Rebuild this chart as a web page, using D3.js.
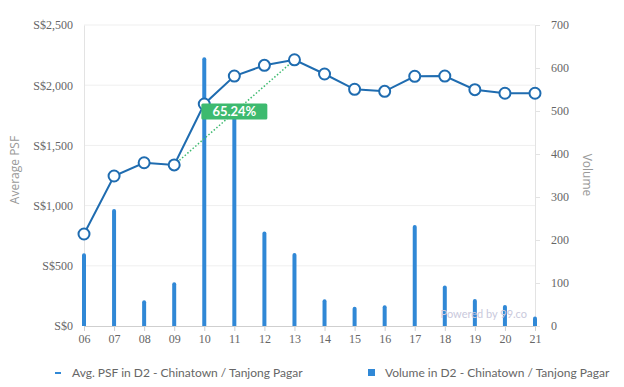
<!DOCTYPE html>
<html>
<head>
<meta charset="utf-8">
<script src="https://cdn.jsdelivr.net/npm/d3@7"></script>
<style>
  body { margin: 0; background: #fff; }
  .tick text { font-family: "Liberation Serif", serif; font-size: 12px; fill: #666; }
  .legend text { font-family: Lato, sans-serif; font-size: 12px; fill: #666; }
</style>
</head>
<body>
<div class="chart"></div>
<script>
var years = ["06", "07", "08", "09", "10", "11", "12", "13", "14", "15", "16", "17", "18", "19", "20", "21"];
var avgPsf = [764, 1246, 1356, 1338, 1844, 2076, 2165, 2211, 2093, 1966, 1949, 2074, 2076, 1963, 1933, 1933];
var volume = [169, 272, 60, 102, 625, 505, 220, 170, 62, 45, 48, 235, 94, 63, 49, 22];
var psfTicks = [0, 500, 1000, 1500, 2000, 2500];
var volTicks = [0, 100, 200, 300, 400, 500, 600, 700];
var changeFrom = "09", changeTo = "13";
var changeLabel = "65.24%";

var svgWidth = 624;
var svgHeight = 387;
var margin = { top: 25, right: 89, bottom: 61, left: 84 };
var width = svgWidth - margin.left - margin.right;
var height = svgHeight - margin.top - margin.bottom;

var svg = d3.select(".chart")
  .append("svg")
  .attr("width", svgWidth)
  .attr("height", svgHeight);

var chartGroup = svg.append("g")
  .attr("transform", `translate(${margin.left}, ${margin.top})`);

var xScale = d3.scalePoint().domain(years).range([0, width]);
var yPsf = d3.scaleLinear().domain([0, 2500]).range([height, 0]);
var yVol = d3.scaleLinear().domain([0, 700]).range([height, 0]);

// gridlines
chartGroup.append("g")
  .selectAll("line")
  .data(psfTicks.slice(1))
  .enter()
  .append("line")
  .attr("x1", 0).attr("x2", width)
  .attr("y1", d => yPsf(d)).attr("y2", d => yPsf(d))
  .attr("stroke", "#efefef");

// left axis
var leftAxis = d3.axisLeft(yPsf).tickValues(psfTicks).tickSize(0).tickPadding(11)
  .tickFormat(d => "S$" + d3.format(",")(d));
var gl = chartGroup.append("g").call(leftAxis);
gl.select(".domain").attr("stroke", "#e3e3e3");

// right axis
var rightAxis = d3.axisRight(yVol).tickValues(volTicks).tickSize(5).tickPadding(11);
var gr = chartGroup.append("g")
  .attr("transform", `translate(${width}, 0)`)
  .call(rightAxis);
gr.select(".domain").attr("stroke", "#e3e3e3");
gr.selectAll(".tick line").attr("stroke", "#e3e3e3");

// bars
var barW = 4;
chartGroup.append("g")
  .selectAll("path")
  .data(volume)
  .enter()
  .append("path")
  .attr("fill", "#3088d6")
  .attr("d", function(d, i) {
    var x = xScale(years[i]) - barW / 2;
    var y = yVol(d);
    var r = 2;
    return `M${x},${height} V${y + r} Q${x},${y} ${x + r},${y} Q${x + barW},${y} ${x + barW},${y + r} V${height} Z`;
  });

// bottom axis
var bottomAxis = d3.axisBottom(xScale).tickSize(5).tickPadding(3);
var gb = chartGroup.append("g")
  .attr("transform", `translate(0, ${height})`)
  .call(bottomAxis);
gb.select(".domain").attr("stroke", "#cfcfcf");
gb.selectAll(".tick line").attr("stroke", "#cfcfcf");

// watermark
chartGroup.append("text")
  .attr("x", width - 8)
  .attr("y", height - 8)
  .attr("text-anchor", "end")
  .style("font-family", "Lato, sans-serif")
  .style("font-size", "11px")
  .style("fill", "#c9c9dc")
  .text("Powered by 99.co");

// change line
var i0 = years.indexOf(changeFrom), i1 = years.indexOf(changeTo);
chartGroup.append("line")
  .attr("x1", xScale(changeFrom)).attr("y1", yPsf(avgPsf[i0]))
  .attr("x2", xScale(changeTo)).attr("y2", yPsf(avgPsf[i1]))
  .attr("stroke", "#3dba6f")
  .attr("stroke-width", 1.5)
  .attr("stroke-dasharray", "1.5,2");

// psf line
var line = d3.line()
  .x((d, i) => xScale(years[i]))
  .y(d => yPsf(d));

chartGroup.append("path")
  .datum(avgPsf)
  .attr("fill", "none")
  .attr("stroke", "#1f6cb0")
  .attr("stroke-width", 2)
  .attr("d", line);

chartGroup.append("g")
  .selectAll("circle")
  .data(avgPsf)
  .enter()
  .append("circle")
  .attr("cx", (d, i) => xScale(years[i]))
  .attr("cy", d => yPsf(d))
  .attr("r", 5.5)
  .attr("fill", "#fff")
  .attr("stroke", "#1f6cb0")
  .attr("stroke-width", 2);

// change label, sits just under the 10 point
var lx = xScale(years[5]);
var ly = yPsf(avgPsf[4]) + 7.5;
chartGroup.append("rect")
  .attr("x", lx - 33).attr("y", ly - 8)
  .attr("width", 66).attr("height", 16)
  .attr("rx", 1.5)
  .attr("fill", "#3dba6f");
chartGroup.append("text")
  .attr("x", lx).attr("y", ly)
  .attr("dy", "0.36em")
  .attr("text-anchor", "middle")
  .style("font-family", "Lato, sans-serif")
  .style("font-weight", "bold")
  .style("font-size", "13px")
  .style("fill", "#fff")
  .text(changeLabel);

// axis titles
svg.append("text")
  .attr("transform", "translate(18.5, 170) rotate(-90)")
  .attr("text-anchor", "middle")
  .style("font-family", "'Open Sans', sans-serif")
  .style("font-size", "12px")
  .style("fill", "#999")
  .text("Average PSF");

svg.append("text")
  .attr("transform", "translate(583, 175) rotate(90)")
  .attr("text-anchor", "middle")
  .style("font-family", "'Open Sans', sans-serif")
  .style("font-size", "12px")
  .style("fill", "#999")
  .text("Volume");

// legend
var legend = svg.append("g").attr("class", "legend");
legend.append("line")
  .attr("x1", 55).attr("x2", 61)
  .attr("y1", 373).attr("y2", 373)
  .attr("stroke", "#3088d6").attr("stroke-width", 2);
legend.append("text")
  .attr("x", 72).attr("y", 373).attr("dy", "0.35em")
  .text("Avg. PSF in D2 - Chinatown / Tanjong Pagar");
legend.append("rect")
  .attr("x", 368).attr("y", 369)
  .attr("width", 7).attr("height", 7)
  .attr("fill", "#3088d6");
legend.append("text")
  .attr("x", 385).attr("y", 373).attr("dy", "0.35em")
  .text("Volume in D2 - Chinatown / Tanjong Pagar");
</script>
</body>
</html>
